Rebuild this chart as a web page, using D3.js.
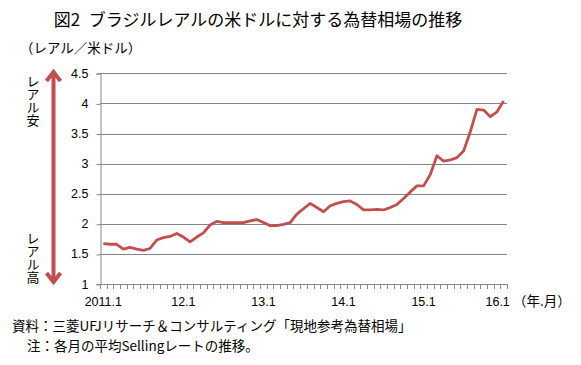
<!DOCTYPE html>
<html><head><meta charset="utf-8">
<script src="https://cdn.jsdelivr.net/npm/d3@7"></script>
<style>
body{margin:0;background:#fff;}
text{font-family:"Noto Sans CJK JP","Noto Sans",sans-serif;}
</style></head>
<body><svg id="c" width="581" height="365"></svg>
<script>
const months = d3.range(61).map(i => (2011 + Math.floor(i/12)) + "." + (i%12+1));
const rates = [
 1.67,1.66,1.66,1.58,1.61,1.58,1.56,1.59,1.73,1.77,1.79,1.84,
 1.78,1.70,1.78,1.85,1.98,2.04,2.02,2.02,2.02,2.02,2.05,2.07,
 2.02,1.97,1.97,1.99,2.02,2.16,2.25,2.34,2.27,2.20,2.30,2.34,
 2.37,2.38,2.32,2.23,2.23,2.24,2.23,2.27,2.32,2.42,2.53,2.63,
 2.63,2.82,3.13,3.04,3.06,3.10,3.21,3.53,3.90,3.89,3.78,3.86,
 4.04];
const yTicks = [1,1.5,2,2.5,3,3.5,4,4.5];
const xLabelIdx = [0,12,24,36,48,60];
const xLabels = ["2011.1","12.1","13.1","14.1","15.1","16.1"];

const svg = d3.select("#c");
const L=100, R=507, T=73.3, B=284;
const x = d3.scaleBand().domain(d3.range(months.length)).range([L,R]).padding(0);
const y = d3.scaleLinear().domain([1,4.5]).range([B,T]);
const grid="#868686", red="#C0504D";

svg.append("text").attr("x",258).attr("y",26).attr("text-anchor","middle")
  .style("font-size","17px").text("図2\u2002ブラジルレアルの米ドルに対する為替相場の推移");
svg.append("text").attr("x",20).attr("y",53).style("font-size","13.5px").text("（レアル／米ドル）");

// gridlines
svg.append("g").selectAll("line").data(yTicks.slice(1)).join("line")
  .attr("x1",L).attr("x2",R).attr("y1",d=>Math.round(y(d))+0.5).attr("y2",d=>Math.round(y(d))+0.5)
  .attr("stroke",grid).attr("stroke-width",1);
// y axis
const ya = svg.append("g").attr("transform",`translate(${L+0.5},0)`)
  .call(d3.axisLeft(y).tickValues(yTicks).tickSize(4).tickPadding(8).tickFormat(d=>d));
ya.selectAll("line,path").attr("stroke",grid);
ya.selectAll("text").style("font-family","'Liberation Sans',sans-serif").style("font-size","12.5px").attr("fill","#000");
ya.selectAll(".tick line").attr("transform","translate(0,0.5)");
// x axis baseline
svg.append("line").attr("x1",L).attr("x2",R).attr("y1",B+0.5).attr("y2",B+0.5).attr("stroke",grid);
const edges = d3.range(months.length+1).map(i => i<months.length ? x(i) : x(months.length-1)+x.bandwidth());
svg.append("g").selectAll("line").data(edges).join("line")
  .attr("x1",d=>Math.round(d)+0.5).attr("x2",d=>Math.round(d)+0.5).attr("y1",B).attr("y2",B+5)
  .attr("stroke",grid);
svg.append("g").selectAll("text").data(xLabelIdx).join("text")
  .attr("x",(d,i)=>x(d)+x.bandwidth()/2 - (i===5?6:0)).attr("y",306).attr("text-anchor","middle")
  .style("font-family","'Liberation Sans',sans-serif").style("font-size","12.5px").text((d,i)=>xLabels[i]);
svg.append("text").attr("x",513).attr("y",306).style("font-size","13.5px").text("（年.月）");

// line
svg.append("path").datum(rates)
  .attr("d",d3.line().x((d,i)=>x(i)+x.bandwidth()/2).y(d=>y(d)))
  .attr("fill","none").attr("stroke",red).attr("stroke-width",2.8).attr("stroke-linejoin","round");

// arrow
const ax=53.5, aTop=71, aBot=283;
svg.append("line").attr("x1",ax).attr("x2",ax).attr("y1",aTop+2).attr("y2",aBot-2)
  .attr("stroke",red).attr("stroke-width",4);
svg.append("path").attr("d",`M${ax-7},${aTop+10}L${ax},${aTop+1}L${ax+7},${aTop+10}`)
  .attr("fill","none").attr("stroke",red).attr("stroke-width",4).attr("stroke-linejoin","miter");
svg.append("path").attr("d",`M${ax-7},${aBot-10}L${ax},${aBot-1}L${ax+7},${aBot-10}`)
  .attr("fill","none").attr("stroke",red).attr("stroke-width",4).attr("stroke-linejoin","miter");

function vtext(str, cx, y0){
  svg.append("text").attr("x",cx).attr("y",y0)
    .style("writing-mode","vertical-rl").style("font-size","13px").text(str);
}
vtext("レアル安",33,75);
vtext("レアル高",33,232);

svg.append("text").attr("x",12).attr("y",331).style("font-size","13.5px")
  .text("資料：三菱UFJリサーチ＆コンサルティング「現地参考為替相場」");
svg.append("text").attr("x",27).attr("y",351).style("font-size","13.5px")
  .text("注：各月の平均Sellingレートの推移。");
</script></body></html>
